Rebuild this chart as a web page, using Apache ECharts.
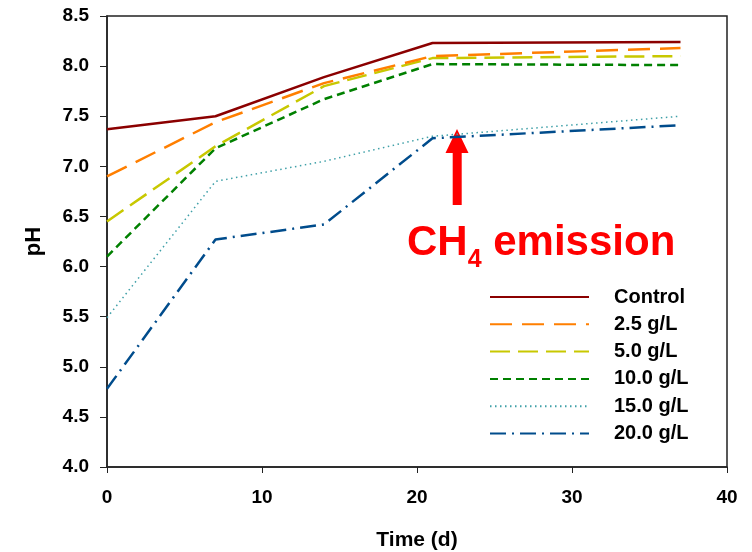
<!DOCTYPE html>
<html><head><meta charset="utf-8">
<script src="https://cdn.jsdelivr.net/npm/echarts@6/dist/echarts.min.js"></script>
<style>html,body{margin:0;padding:0;background:#fff}#c{width:752px;height:552px}</style>
</head><body><div id="c"></div>
<script>
const days = [0, 7, 14, 21, 37];
const seriesNames = ['Control', '2.5 g/L', '5.0 g/L', '10.0 g/L', '15.0 g/L', '20.0 g/L'];
const control = [7.37, 7.50, 7.89, 8.23, 8.24];
const g2_5 = [6.90, 7.44, 7.83, 8.10, 8.18];
const g5_0 = [6.45, 7.20, 7.80, 8.08, 8.10];
const g10_0 = [6.10, 7.18, 7.67, 8.02, 8.01];
const g15_0 = [5.49, 6.85, 7.05, 7.30, 7.50];
const g20_0 = [4.78, 6.27, 6.42, 7.28, 7.41];
const yTicks = [4.0, 4.5, 5.0, 5.5, 6.0, 6.5, 7.0, 7.5, 8.0, 8.5];
const xTicks = [0, 10, 20, 30, 40];

const values = [control, g2_5, g5_0, g10_0, g15_0, g20_0];
const colors = ['#8B0000', '#FF7F00', '#C8C800', '#008000', '#3FA0A8', '#004C8C'];
const styles = [
  {width: 2.5, type: 'solid'},
  {width: 2.5, type: [22, 10]},
  {width: 2.5, type: [20, 8]},
  {width: 2.5, type: [8, 5]},
  {width: 1.5, type: [1.5, 3.5]},
  {width: 2.5, type: [16, 6, 2, 6]}
];
const font = 'Liberation Sans, Arial, sans-serif';

const chart = echarts.init(document.getElementById('c'));
chart.setOption({
  animation: false,
  grid: {left: 107, right: 25, top: 16, bottom: 85, show: true, borderColor: '#222', borderWidth: 1.5,
    outerBoundsMode: 'none', containLabel: false},
  xAxis: {
    type: 'value', min: xTicks[0], max: xTicks[xTicks.length - 1], interval: 10,
    name: 'Time (d)', nameLocation: 'middle', nameGap: 63,
    nameTextStyle: {fontFamily: font, fontWeight: 'bold', fontSize: 21, color: '#000'},
    axisLine: {lineStyle: {color: '#222', width: 1.5}},
    axisTick: {show: true, length: 6, lineStyle: {color: '#222'}},
    axisLabel: {fontFamily: font, fontWeight: 'bold', fontSize: 19, color: '#000', margin: 21},
    splitLine: {show: false}
  },
  yAxis: {
    type: 'value', min: yTicks[0], max: yTicks[yTicks.length - 1], interval: 0.5,
    name: 'pH', nameLocation: 'middle', nameGap: 62, nameRotate: 90,
    nameTextStyle: {fontFamily: font, fontWeight: 'bold', fontSize: 22, color: '#000'},
    axisLine: {show: true, lineStyle: {color: '#222', width: 1.5}},
    axisTick: {show: true, length: 7, lineStyle: {color: '#222'}},
    axisLabel: {fontFamily: font, fontWeight: 'bold', fontSize: 19, color: '#000', margin: 18,
      formatter: v => v.toFixed(1)},
    splitLine: {show: false}
  },
  legend: {
    orient: 'vertical', left: 484, top: 282, itemWidth: 99, itemHeight: 14, itemGap: 7.3,
    data: seriesNames,
    itemStyle: {opacity: 0},
    textStyle: {fontFamily: font, fontWeight: 'bold', fontSize: 20, lineHeight: 20, color: '#000', padding: [0, 0, 0, 20]}
  },
  series: seriesNames.map((n, i) => ({
    name: n, type: 'line', symbol: 'none', showSymbol: false,
    data: days.map((d, j) => [d, values[i][j]]),
    color: colors[i],
    lineStyle: {color: colors[i], width: styles[i].width, type: styles[i].type},
    z: 10 - i
  })),
  graphic: [
    {type: 'polygon', shape: {points: [[457, 129], [445.5, 153], [452.7, 153], [452.7, 205], [461.7, 205], [461.7, 153], [468.5, 153]]},
     style: {fill: '#FF0000'}},
    {type: 'text', left: 407, top: 222,
     style: {text: '{a|CH}{s|4}{a| emission}', rich: {
       a: {fontFamily: font, fontWeight: 'bold', fontSize: 42, fill: '#FF0000', verticalAlign: 'bottom'},
       s: {fontFamily: font, fontWeight: 'bold', fontSize: 25, fill: '#FF0000', padding: [0, 0, -9, 0], verticalAlign: 'bottom'}
     }}}
  ]
});
</script></body></html>
